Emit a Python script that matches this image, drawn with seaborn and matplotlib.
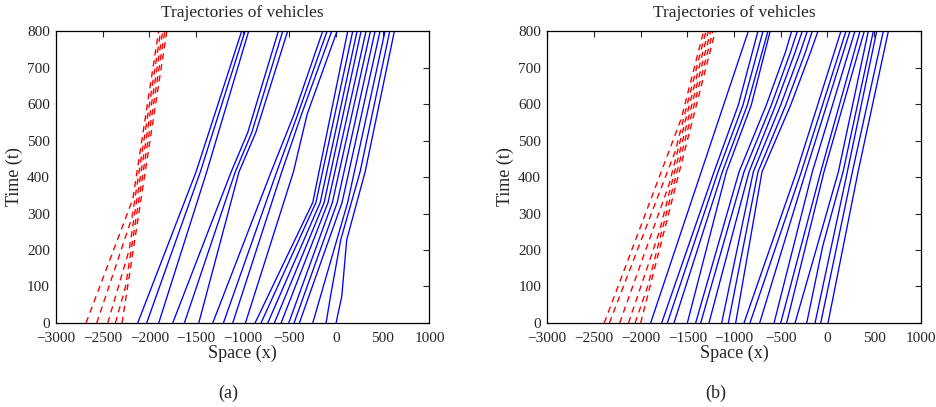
import matplotlib
matplotlib.use("Agg")
import matplotlib.pyplot as plt
import seaborn as sns
import pandas as pd

# each vehicle: list of (time, position) points

# panel (a)
a_red = [
    [(0, -2679), (340, -2177), (800, -1901)],
    [(0, -2564), (290, -2185), (800, -1879)],
    [(0, -2446), (200, -2217), (800, -1857)],
    [(0, -2364), (100, -2255), (800, -1835)],
    [(0, -2293), (800, -1813)],
]
a_blue = [
    [(0, -2125), (414, -1500), (800, -1011)],
    [(0, -2029), (414, -1454), (800, -975)],
    [(0, -1900), (414, -1386), (800, -936)],
    [(0, -1750), (414, -1124), (522, -946), (800, -618)],
    [(0, -1625), (414, -1080), (522, -903), (800, -571)],
    [(0, -1471), (414, -1040), (522, -860), (800, -518)],
    [(0, -1321), (414, -696), (572, -450), (800, -143)],
    [(0, -1207), (414, -636), (572, -410), (800, -96)],
    [(0, -1107), (414, -582), (572, -370), (800, -46)],
    [(0, -971), (414, -457), (572, -310), (800, 11)],
    [(0, -868), (330, -250), (800, 125)],
    [(0, -804), (330, -216), (800, 179)],
    [(0, -732), (330, -170), (800, 225)],
    [(0, -661), (330, -128), (800, 268)],
    [(0, -589), (330, -86), (800, 321)],
    [(0, -507), (330, -40), (800, 368)],
    [(0, -450), (330, 12), (800, 418)],
    [(0, -393), (330, 64), (800, 471)],
    [(0, -250), (330, 124), (800, 525)],
    [(0, -107), (73, -60), (228, 50), (414, 257), (800, 575)],
    [(0, 0), (73, 61), (228, 114), (414, 311), (800, 625)],
]

# panel (b)
b_red = [
    [(0, -2390), (560, -1565), (800, -1325)],
    [(0, -2335), (470, -1630), (800, -1300)],
    [(0, -2225), (380, -1695), (800, -1275)],
    [(0, -2130), (250, -1800), (800, -1250)],
    [(0, -2060), (100, -1925), (800, -1225)],
    [(0, -2000), (800, -1200)],
]
b_blue = [
    [(0, -1893), (800, -846)],
    [(0, -1775), (414, -1214), (597, -954), (800, -743)],
    [(0, -1714), (414, -1171), (597, -904), (800, -689)],
    [(0, -1643), (414, -1125), (597, -857), (800, -636)],
    [(0, -1500), (414, -1082), (597, -815), (800, -612)],
    [(0, -1411), (414, -946), (597, -654), (742, -449), (800, -382)],
    [(0, -1357), (414, -893), (597, -600), (742, -395), (800, -321)],
    [(0, -1268), (414, -839), (597, -554), (742, -345), (800, -268)],
    [(0, -1132), (414, -793), (597, -500), (742, -290), (800, -214)],
    [(0, -1061), (414, -743), (597, -446), (742, -235), (800, -161)],
    [(0, -982), (414, -700), (597, -393), (742, -180), (800, -100)],
    [(0, -893), (414, -330), (800, 146)],
    [(0, -829), (414, -279), (800, 200)],
    [(0, -725), (414, -232), (584, -23), (800, 243)],
    [(0, -571), (414, -161), (584, 40), (800, 296)],
    [(0, -500), (414, -71), (484, 5), (800, 350)],
    [(0, -436), (414, -36), (800, 396)],
    [(0, -346), (210, -110), (414, 118), (800, 439)],
    [(0, -221), (210, -50), (414, 168), (800, 493)],
    [(0, -132), (414, 214), (800, 529)],
    [(0, -71), (414, 268), (800, 600)],
    [(0, 7), (414, 329), (800, 654)],
]

x_ticks = [-3000, -2500, -2000, -1500, -1000, -500, 0, 500, 1000]
y_ticks = [0, 100, 200, 300, 400, 500, 600, 700, 800]


def to_frame(paths):
    rows = []
    for i, path in enumerate(paths):
        for t, x in path:
            rows.append({"vehicle": i, "t": t, "x": x})
    return pd.DataFrame(rows)


def draw_panel(ax, red, blue):
    sns.lineplot(data=to_frame(blue), x="x", y="t", units="vehicle",
                 estimator=None, sort=False, color="#0000ff", lw=0.95, ax=ax)
    sns.lineplot(data=to_frame(red), x="x", y="t", units="vehicle",
                 estimator=None, sort=False, color="#ff0000", lw=1.0,
                 linestyle=(0, (4.5, 3.5)), ax=ax)
    ax.set_xlim(-3000, 1000)
    ax.set_ylim(0, 800)
    ax.set_xticks(x_ticks)
    ax.set_yticks(y_ticks)
    ax.tick_params(direction="in", length=4, width=0.8, top=True, right=True,
                   labelsize=11)
    ax.tick_params(axis="x", pad=6.5)
    ax.tick_params(axis="y", pad=4.5)
    for s in ax.spines.values():
        s.set_linewidth(0.9)
        s.set_color("black")
    ax.set_title("Trajectories of vehicles", fontsize=12.5, pad=10)
    ax.set_xlabel("Space (x)", fontsize=13, labelpad=0)
    ax.set_ylabel("Time (t)", fontsize=13, labelpad=3)


sns.set_style("white")
plt.rcParams["font.family"] = ["Liberation Serif", "DejaVu Serif"]
plt.rcParams["axes.unicode_minus"] = True

fig = plt.figure(figsize=(9.37, 4.07), dpi=100)
ax1 = fig.add_axes([0.0598, 0.2064, 0.3985, 0.7174])
ax2 = fig.add_axes([0.5841, 0.2064, 0.3985, 0.7174])

draw_panel(ax1, a_red, a_blue)
draw_panel(ax2, b_red, b_blue)

fig.text(228 / 937, 1 - 393 / 407, "(a)", ha="center", va="center", fontsize=13)
fig.text(716 / 937, 1 - 393 / 407, "(b)", ha="center", va="center", fontsize=13)

fig.savefig("out.png", dpi=100)
